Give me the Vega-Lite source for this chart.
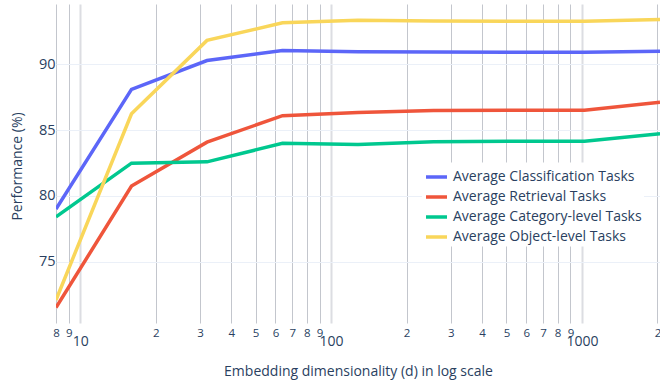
{
  "$schema": "https://vega.github.io/schema/vega-lite/v6.json",
  "autosize": "none",
  "width": 604,
  "height": 319,
  "padding": {"left": 56, "top": 4, "right": 0, "bottom": 60},
  "background": "white",
  "config": {
    "view": {"stroke": null},
    "font": "Open Sans",
    "axis": {"labelFont": "Open Sans", "titleFont": "Open Sans", "labelColor": "#2a3f5f", "titleColor": "#2a3f5f", "titleFontWeight": "normal", "domain": false, "ticks": false, "tickSize": 0},
    "legend": {"labelFont": "Open Sans", "labelColor": "#2a3f5f"}
  },
  "data": {
    "values": [
      {"d": 8, "task": "Average Classification Tasks", "perf": 79.0},
      {"d": 16, "task": "Average Classification Tasks", "perf": 88.1},
      {"d": 32, "task": "Average Classification Tasks", "perf": 90.3},
      {"d": 64, "task": "Average Classification Tasks", "perf": 91.07},
      {"d": 128, "task": "Average Classification Tasks", "perf": 90.96},
      {"d": 256, "task": "Average Classification Tasks", "perf": 90.94},
      {"d": 512, "task": "Average Classification Tasks", "perf": 90.93},
      {"d": 1024, "task": "Average Classification Tasks", "perf": 90.93},
      {"d": 2048, "task": "Average Classification Tasks", "perf": 91.0},
      {"d": 8, "task": "Average Retrieval Tasks", "perf": 71.5},
      {"d": 16, "task": "Average Retrieval Tasks", "perf": 80.75},
      {"d": 32, "task": "Average Retrieval Tasks", "perf": 84.09},
      {"d": 64, "task": "Average Retrieval Tasks", "perf": 86.1},
      {"d": 128, "task": "Average Retrieval Tasks", "perf": 86.35},
      {"d": 256, "task": "Average Retrieval Tasks", "perf": 86.5},
      {"d": 512, "task": "Average Retrieval Tasks", "perf": 86.52},
      {"d": 1024, "task": "Average Retrieval Tasks", "perf": 86.52},
      {"d": 2048, "task": "Average Retrieval Tasks", "perf": 87.13},
      {"d": 8, "task": "Average Category-level Tasks", "perf": 78.4},
      {"d": 16, "task": "Average Category-level Tasks", "perf": 82.49},
      {"d": 32, "task": "Average Category-level Tasks", "perf": 82.59},
      {"d": 64, "task": "Average Category-level Tasks", "perf": 84.0},
      {"d": 128, "task": "Average Category-level Tasks", "perf": 83.91},
      {"d": 256, "task": "Average Category-level Tasks", "perf": 84.12},
      {"d": 512, "task": "Average Category-level Tasks", "perf": 84.16},
      {"d": 1024, "task": "Average Category-level Tasks", "perf": 84.16},
      {"d": 2048, "task": "Average Category-level Tasks", "perf": 84.72},
      {"d": 8, "task": "Average Object-level Tasks", "perf": 72.08},
      {"d": 16, "task": "Average Object-level Tasks", "perf": 86.25},
      {"d": 32, "task": "Average Object-level Tasks", "perf": 91.83},
      {"d": 64, "task": "Average Object-level Tasks", "perf": 93.17},
      {"d": 128, "task": "Average Object-level Tasks", "perf": 93.37},
      {"d": 256, "task": "Average Object-level Tasks", "perf": 93.3},
      {"d": 512, "task": "Average Object-level Tasks", "perf": 93.28},
      {"d": 1024, "task": "Average Object-level Tasks", "perf": 93.28},
      {"d": 2048, "task": "Average Object-level Tasks", "perf": 93.43}
    ]
  },
  "mark": {"type": "line", "strokeWidth": 3.5, "clip": true},
  "encoding": {
    "x": {
      "field": "d",
      "type": "quantitative",
      "scale": {"type": "log", "domain": [8, 2048], "nice": false, "zero": false},
      "axis": {
        "title": "Embedding dimensionality (d) in log scale",
        "titleFontSize": 14,
        "titleBaseline": "alphabetic",
        "titleY": 52.5,
        "values": [8, 9, 10, 20, 30, 40, 50, 60, 70, 80, 90, 100, 200, 300, 400, 500, 600, 700, 800, 900, 1000, 2000],
        "labelExpr": "indexof([10,100,1000], datum.value) >= 0 ? toString(datum.value) : substring(toString(datum.value), 0, 1)",
        "labelFontSize": {"condition": {"test": "indexof([10,100,1000], datum.value) >= 0", "value": 14}, "value": 11.5},
        "labelPadding": {"condition": {"test": "indexof([10,100,1000], datum.value) >= 0", "value": 11}, "value": 4},
        "labelOverlap": false,
        "labelFlush": false,
        "labelBound": false,
        "grid": true,
        "gridColor": {"condition": {"test": "indexof([10,100,1000], datum.value) >= 0", "value": "#dcdde2"}, "value": "#c3c6cd"},
        "gridWidth": {"condition": {"test": "indexof([10,100,1000], datum.value) >= 0", "value": 2}, "value": 1}
      }
    },
    "y": {
      "field": "perf",
      "type": "quantitative",
      "scale": {"domain": [70.33, 94.6], "nice": false, "zero": false},
      "axis": {
        "title": "Performance (%)",
        "titleFontSize": 14,
        "titleAngle": -90,
        "titleX": -39,
        "titleY": 162,
        "titleAlign": "center",
        "titleBaseline": "middle",
        "values": [75, 80, 85, 90],
        "labelFontSize": 14.5,
        "labelPadding": 1,
        "grid": true,
        "gridColor": "#ebf0f8",
        "gridWidth": 1
      }
    },
    "color": {
      "field": "task",
      "type": "nominal",
      "scale": {
        "domain": ["Average Classification Tasks", "Average Retrieval Tasks", "Average Category-level Tasks", "Average Object-level Tasks"],
        "range": ["#5c66f8", "#ef553b", "#00c88f", "#f9d65a"]
      },
      "legend": {
        "title": null,
        "orient": "none",
        "legendX": 366,
        "legendY": 158.5,
        "labelFontSize": 14,
        "labelLimit": 400,
        "symbolType": "stroke",
        "symbolStrokeWidth": 3.5,
        "symbolSize": 441,
        "labelOffset": 4,
        "rowPadding": 0,
        "padding": 2,
        "fillColor": "white"
      }
    }
  }
}
